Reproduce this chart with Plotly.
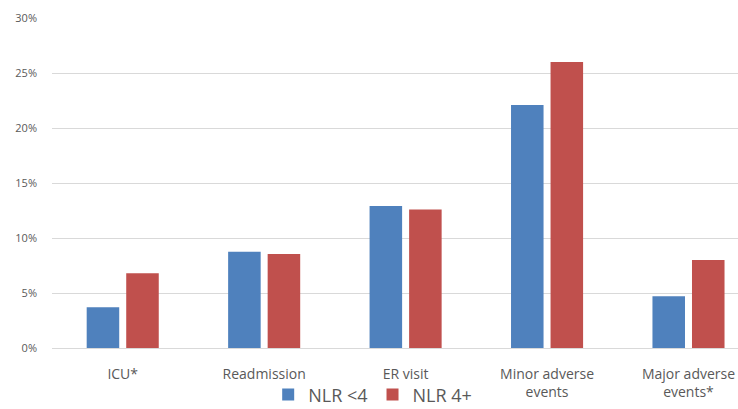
import plotly.graph_objects as go

categories = ["ICU*", "Readmission", "ER visit", "Minor adverse<br>events", "Major adverse<br>events*"]
nlr_low = [0.037, 0.0875, 0.129, 0.221, 0.047]
nlr_high = [0.068, 0.0855, 0.126, 0.260, 0.080]
y_ticks = [0, 0.05, 0.10, 0.15, 0.20, 0.25, 0.30]
y_tick_text = ["0%", "5%", "10%", "15%", "20%", "25%", "30%"]

fig = go.Figure()
fig.add_trace(go.Bar(x=categories, y=nlr_low, name="NLR <4",
                     marker=dict(color="#4F81BD", line=dict(width=0))))
fig.add_trace(go.Bar(x=categories, y=nlr_high, name="NLR 4+",
                     marker=dict(color="#C0504D", line=dict(width=0))))

txt = "#595959"
fig.update_layout(
    width=738, height=409,
    margin=dict(l=52, r=0, t=18, b=61, autoexpand=False),
    paper_bgcolor="white", plot_bgcolor="white",
    barmode="group", bargap=0.441, bargroupgap=0.177,
    font=dict(family="Open Sans", color=txt),
    showlegend=True,
    legend=dict(orientation="h", xref="container", yref="paper",
                x=0.505, xanchor="center", y=-0.142, yanchor="middle",
                font=dict(size=18, color=txt), bgcolor="rgba(0,0,0,0)"),
    xaxis=dict(range=[-0.5, 4.35], showgrid=False, showline=False, zeroline=False,
               ticks="", tickfont=dict(size=14, color=txt), ticklabelstandoff=16),
    yaxis=dict(range=[0, 0.30], tickvals=y_ticks, ticktext=y_tick_text,
               showgrid=True, gridcolor="#D9D9D9", gridwidth=1,
               zeroline=True, zerolinecolor="#D9D9D9", zerolinewidth=1,
               showline=False, ticks="", tickfont=dict(size=11, color=txt),
               ticklabelstandoff=14),
)
fig.write_html("out.html")
